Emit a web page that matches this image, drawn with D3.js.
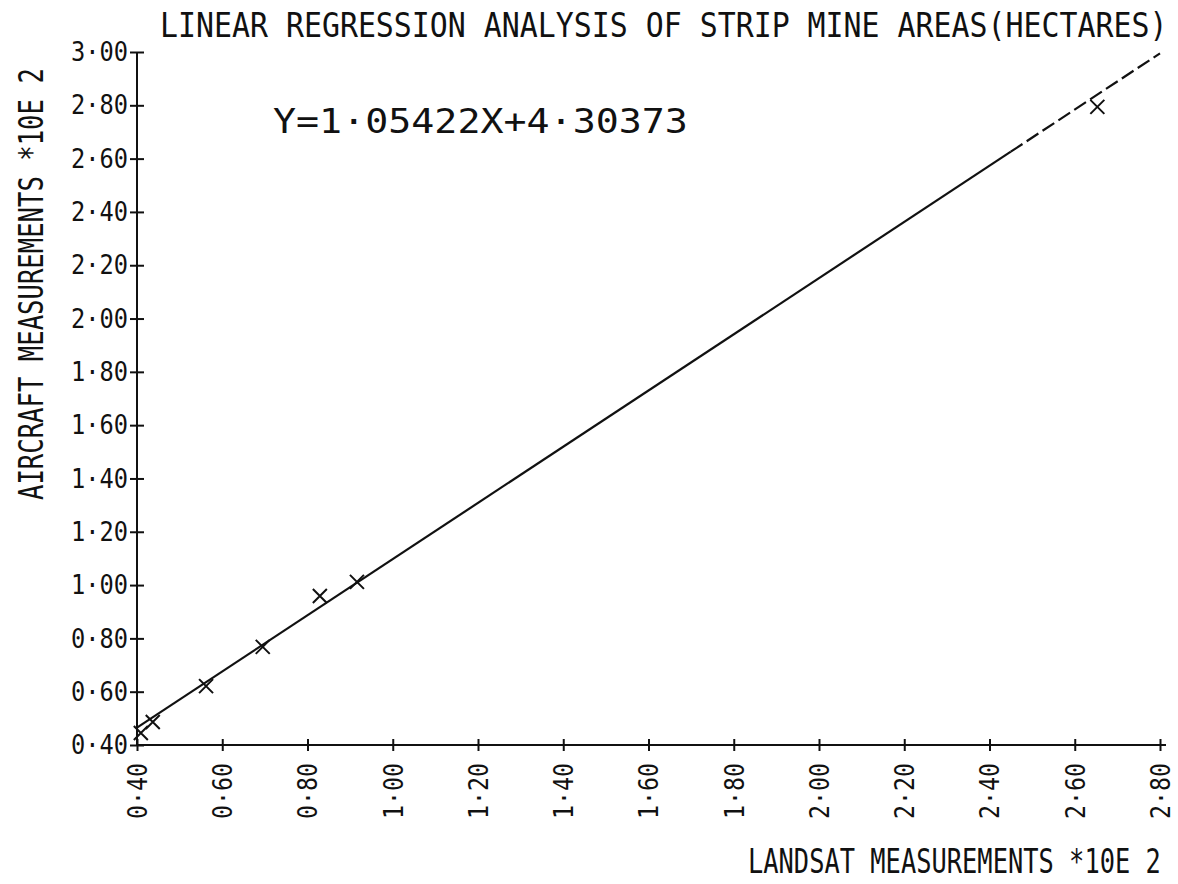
<!DOCTYPE html>
<html>
<head>
<meta charset="utf-8">
<title>Strip mine regression</title>
<script src="https://cdn.jsdelivr.net/npm/d3@7"></script>
<style>
  body { margin: 0; background: #fff; }
  text { font-family: "DejaVu Sans Mono", monospace; fill: #111; }
</style>
</head>
<body>
<div id="chart"></div>
<script>
// landsat vs aircraft measurements, units of 10^2 hectares
var landsat  = [0.409, 0.437, 0.562, 0.695, 0.829, 0.916, 2.653];
var aircraft = [0.445, 0.486, 0.621, 0.768, 0.959, 1.012, 2.794];

// fitted line as drawn (end points)
var lineX = [0.40, 2.45, 2.80];
var lineY = [0.465, 2.626, 2.995];

var xTicks = [0.40, 0.60, 0.80, 1.00, 1.20, 1.40, 1.60, 1.80, 2.00, 2.20, 2.40, 2.60, 2.80];
var yTicks = [0.40, 0.60, 0.80, 1.00, 1.20, 1.40, 1.60, 1.80, 2.00, 2.20, 2.40, 2.60, 2.80, 3.00];

var title = "LINEAR REGRESSION ANALYSIS OF STRIP MINE AREAS(HECTARES)";
var equation = "Y=1\u00b705422X+4\u00b730373";
var xLabel = "LANDSAT MEASUREMENTS *10E 2";
var yLabel = "AIRCRAFT MEASUREMENTS *10E 2";

var w = 1178, h = 884;

var svg = d3.select("#chart").append("svg")
    .attr("width", w)
    .attr("height", h);

var x = d3.scaleLinear().domain([0.40, 2.80]).range([137, 1160]);
var y = d3.scaleLinear().domain([0.40, 3.00]).range([745, 52]);

var fmt = function (d) { return d.toFixed(2).replace(".", "\u00b7"); };

// squeeze a text horizontally to a given width (plotter lettering is narrow)
function squeeze(t, width, pre) {
    var len = t.node().getComputedTextLength();
    t.attr("transform", (pre || "") + " scale(" + (width / len) + ",1)");
}

// y axis, ticks drawn as "+"
var gy = svg.append("g")
    .attr("transform", "translate(" + x(0.40) + ",0)")
    .call(d3.axisLeft(y).tickValues(yTicks).tickSize(7).tickFormat(fmt));
gy.select(".domain").attr("d", "M0," + y(0.40) + "V" + y(3.00))
    .attr("stroke", "#111").attr("stroke-width", 2);
gy.selectAll(".tick line").attr("x1", 7).attr("stroke", "#111").attr("stroke-width", 2);
gy.selectAll(".tick text")
    .attr("font-size", 27)
    .attr("font-family", "DejaVu Sans Mono")
    .attr("x", 0)
    .attr("fill", "#111")
    .each(function () { squeeze(d3.select(this), 57, "translate(-9,0)"); });

// x axis
var gx = svg.append("g")
    .attr("transform", "translate(0," + y(0.40) + ")")
    .call(d3.axisBottom(x).tickValues(xTicks).tickSize(6).tickFormat(fmt));
gx.select(".domain").attr("d", "M" + x(0.40) + ",0H" + (x(2.80) + 6))
    .attr("stroke", "#111").attr("stroke-width", 2);
gx.selectAll(".tick line").attr("y1", -6).attr("stroke", "#111").attr("stroke-width", 2);
gx.selectAll(".tick text")
    .attr("font-size", 27)
    .attr("font-family", "DejaVu Sans Mono")
    .attr("text-anchor", "end")
    .attr("x", 0)
    .attr("y", 0)
    .attr("dy", "0.35em")
    .attr("fill", "#111")
    .each(function () { squeeze(d3.select(this), 56, "translate(0,18) rotate(-90)"); });

// regression line: solid, then dashed tail
var seg = d3.line().x(function (d) { return x(d[0]); }).y(function (d) { return y(d[1]); });
svg.append("path")
    .attr("d", seg([[lineX[0], lineY[0]], [lineX[1], lineY[1]]]))
    .attr("fill", "none").attr("stroke", "#111").attr("stroke-width", 2.2);
svg.append("path")
    .attr("d", seg([[lineX[1], lineY[1]], [lineX[2], lineY[2]]]))
    .attr("fill", "none").attr("stroke", "#111").attr("stroke-width", 2.2)
    .attr("stroke-dasharray", "14,5");

// data points as x marks
var pts = landsat.map(function (d, i) { return [d, aircraft[i]]; });
var marks = svg.selectAll("g.pt")
    .data(pts)
    .enter()
    .append("g")
    .attr("class", "pt")
    .attr("transform", function (d) { return "translate(" + x(d[0]) + "," + y(d[1]) + ")"; });
marks.append("path")
    .attr("d", "M-7,-7L7,7M-7,7L7,-7")
    .attr("stroke", "#111")
    .attr("stroke-width", 2);

// titles
var t1 = svg.append("text")
    .attr("font-size", 33)
    .text(title);
squeeze(t1, 1008, "translate(160,37)");

var t2 = svg.append("text")
    .attr("font-size", 34)
    .text(equation);
squeeze(t2, 415, "translate(273,133)");

var t3 = svg.append("text")
    .attr("font-size", 33)
    .text(xLabel);
squeeze(t3, 413, "translate(748,873)");

var t4 = svg.append("text")
    .attr("font-size", 33)
    .text(yLabel);
squeeze(t4, 432, "translate(43,500) rotate(-90)");
</script>
</body>
</html>
